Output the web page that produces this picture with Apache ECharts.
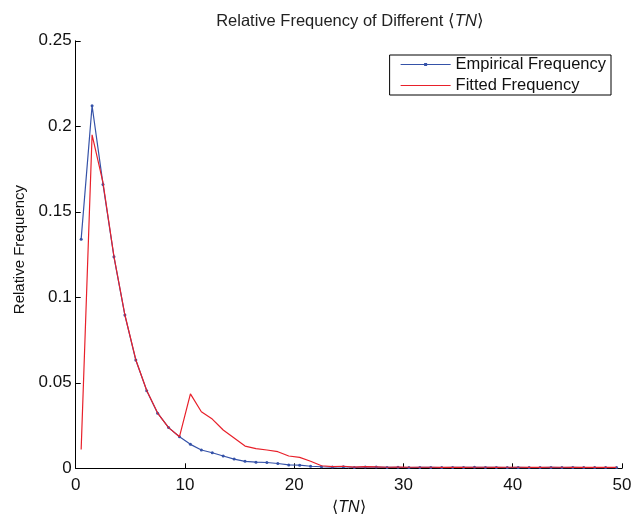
<!DOCTYPE html>
<html>
<head>
<meta charset="utf-8">
<script src="https://cdn.jsdelivr.net/npm/echarts@6/dist/echarts.min.js"></script>
<style>html,body{margin:0;padding:0;background:#fff;}#c{width:636px;height:515px;}</style>
</head>
<body>
<div id="c"></div>
<script>
const xValues = [0.5,1.5,2.5,3.5,4.5,5.5,6.5,7.5,8.5,9.5,10.5,11.5,12.5,13.5,14.5,15.5,16.5,17.5,18.5,19.5,20.5,21.5,22.5,23.5,24.5,25.5,26.5,27.5,28.5,29.5,30.5,31.5,32.5,33.5,34.5,35.5,36.5,37.5,38.5,39.5,40.5,41.5,42.5,43.5,44.5,45.5,46.5,47.5,48.5,49.5];
const empirical = [0.134,0.212,0.166,0.1237,0.0896,0.0633,0.0454,0.0322,0.0238,0.0185,0.014,0.0107,0.0091,0.0072,0.0054,0.0041,0.0036,0.0034,0.0028,0.0020,0.0018,0.0012,0.0009,0.0007,0.0009,0.0005,0.0008,0.0007,0.0005,0.0006,0.0004,0.0005,0.0005,0.0004,0.0005,0.0005,0.0006,0.0005,0.0005,0.0004,0.0005,0.0004,0.0004,0.0005,0.0004,0.0005,0.0004,0.0004,0.0004,0.0004];
const fitted = [0.011,0.195,0.167,0.124,0.0898,0.0635,0.0455,0.0323,0.0238,0.0185,0.0435,0.0331,0.0288,0.0224,0.0177,0.013,0.0115,0.0107,0.0097,0.0072,0.0064,0.0041,0.0015,0.0010,0.0012,0.0007,0.0010,0.0008,0.0006,0.0007,0.0006,0.0006,0.0006,0.0005,0.0006,0.0005,0.0006,0.0006,0.0005,0.0006,0.0006,0.0005,0.0005,0.0006,0.0006,0.0005,0.0005,0.0006,0.0005,0.0005];
const xTicks = {min: 0, max: 50, interval: 10};
const yTicks = {min: 0, max: 0.25, interval: 0.05};

const font = 'Liberation Sans, Arial, Helvetica, sans-serif';
const BLUE = '#3552a8', RED = '#e8202a';
const chart = echarts.init(document.getElementById('c'), null, {renderer: 'canvas'});
chart.setOption({
  backgroundColor: '#fff',
  animation: false,
  title: {
    text: '{a|Relative Frequency of Different \u27E8}{b|TN}{a|\u27E9}',
    left: 345, textAlign: 'center', top: 8,
    textStyle: {
      fontWeight: 'normal',
      rich: {
        a: {fontFamily: font, fontSize: 16.5, color: '#222', fontWeight: 'normal'},
        b: {fontFamily: font, fontSize: 16.5, color: '#222', fontStyle: 'italic', fontWeight: 'normal'}
      }
    }
  },
  legend: {
    right: 25, top: 55, orient: 'vertical',
    itemWidth: 50, itemHeight: 3, itemGap: 4,
    borderColor: '#000', borderWidth: 1, borderRadius: 0,
    padding: [1, 5, 1, 11],
    backgroundColor: '#fff',
    textStyle: {fontFamily: font, fontSize: 16.5, color: '#111', padding: [0, 0, 0, 0]},
    data: [
      {name: 'Empirical Frequency', icon: 'path://M0,1 L50,1 L50,2 L0,2 Z M23.5,0 L26.5,0 L26.5,3 L23.5,3 Z', itemStyle: {color: BLUE}},
      {name: 'Fitted Frequency', icon: 'path://M0,1 L50,1 L50,2 L0,2 Z M0,0 L0.05,0 L0.05,0.05 Z M49.95,3 L50,3 L50,2.95 Z', itemStyle: {color: RED}}
    ]
  },
  grid: {left: 75.7, right: 14, top: 40.8, bottom: 46.7, containLabel: false, outerBoundsMode: 'none'},
  xAxis: {
    type: 'value', min: xTicks.min, max: xTicks.max, interval: xTicks.interval,
    name: '{a|\u27E8}{b|TN}{a|\u27E9}', nameLocation: 'middle', nameGap: 31,
    nameTextStyle: {rich: {
      a: {fontFamily: font, fontSize: 16, color: '#111'},
      b: {fontFamily: font, fontSize: 16, color: '#111', fontStyle: 'italic'}
    }},
    axisLine: {lineStyle: {color: '#000', width: 1}},
    axisTick: {inside: true, length: 5, lineStyle: {color: '#000'}},
    axisLabel: {fontFamily: font, fontSize: 17, color: '#111', margin: 9},
    splitLine: {show: false}
  },
  yAxis: {
    type: 'value', min: yTicks.min, max: yTicks.max, interval: yTicks.interval,
    name: 'Relative Frequency', nameLocation: 'middle', nameGap: 39,
    nameTextStyle: {fontFamily: font, fontSize: 15, color: '#111', padding: [0, 0, 0, 10]},
    axisLine: {show: true, lineStyle: {color: '#000', width: 1}},
    axisTick: {show: true, inside: true, length: 5, lineStyle: {color: '#000'}},
    axisLabel: {fontFamily: font, fontSize: 17, color: '#111', margin: 4},
    splitLine: {show: false}
  },
  series: [
    {
      name: 'Empirical Frequency', type: 'line',
      data: xValues.map((x, i) => [x, empirical[i]]),
      symbol: 'circle', symbolSize: 3, showSymbol: true,
      lineStyle: {color: BLUE, width: 1.2},
      itemStyle: {color: BLUE},
      z: 2
    },
    {
      name: 'Fitted Frequency', type: 'line',
      data: xValues.map((x, i) => [x, fitted[i]]),
      symbol: 'none', showSymbol: false,
      lineStyle: {color: RED, width: 1.2},
      itemStyle: {color: RED},
      z: 3
    }
  ]
});
</script>
</body>
</html>
